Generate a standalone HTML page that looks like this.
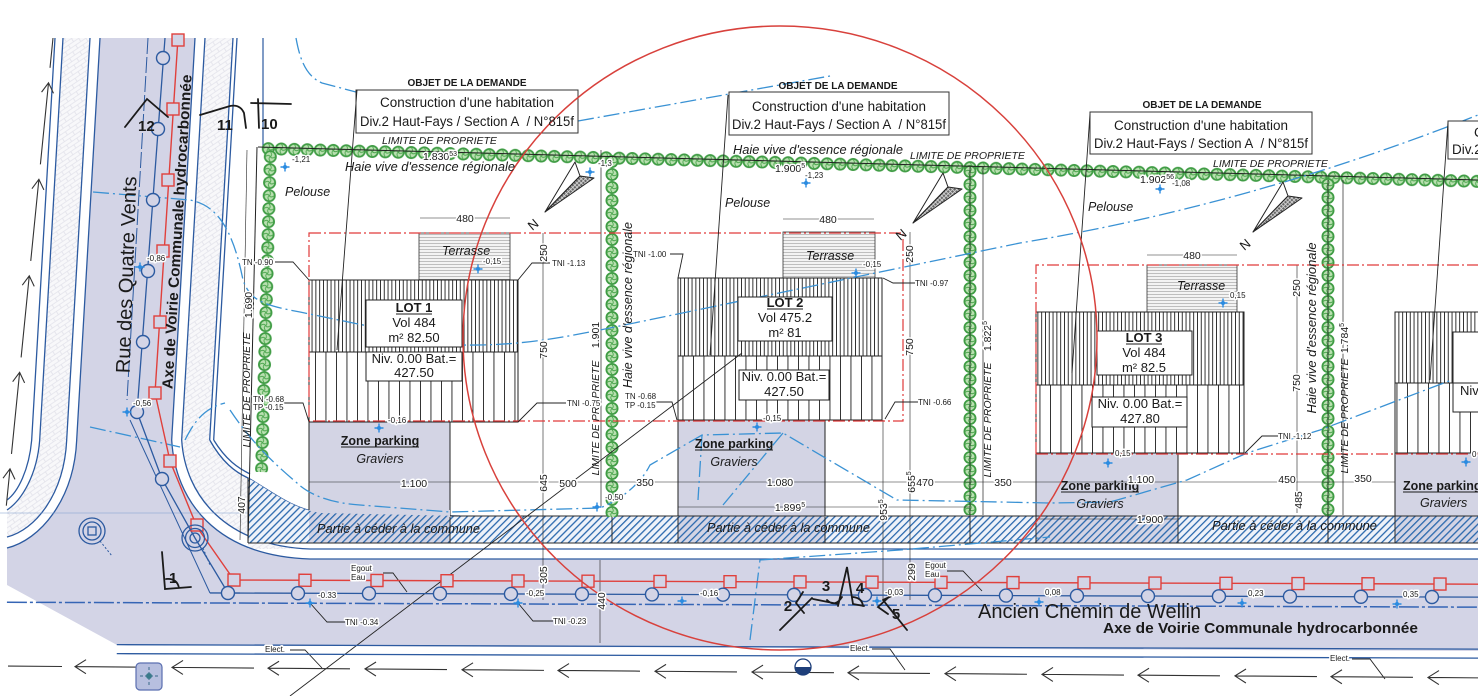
<!DOCTYPE html>
<html><head><meta charset="utf-8"><title>Plan</title>
<style>
html,body{margin:0;padding:0;background:#fff;overflow:hidden;}
svg{display:block;}
text{font-family:"Liberation Sans",Arial,sans-serif;fill:#1a1a1a;}
.s{font-size:8px;}
.d{font-size:10.5px;}
.h{stroke:#fff;stroke-width:3px;paint-order:stroke;stroke-linejoin:round;}
.it{font-style:italic;}
.b{font-weight:bold;}
</style></head><body>
<svg width="1478" height="696" viewBox="0 0 1478 696" xmlns="http://www.w3.org/2000/svg">
<defs>
 <pattern id="vd" width="3.8" height="20" patternUnits="userSpaceOnUse"><rect width="3.8" height="20" fill="#fff"/><rect width="0.9" height="20" fill="#1e1e1e"/></pattern>
 <pattern id="vs" width="10.5" height="20" patternUnits="userSpaceOnUse"><rect width="10.5" height="20" fill="#fff"/><rect width="0.9" height="20" fill="#1e1e1e"/></pattern>
 <pattern id="ht" width="10" height="3" patternUnits="userSpaceOnUse"><rect width="10" height="3" fill="#f3f3f3"/><rect width="10" height="0.6" fill="#9a9a9a"/></pattern>
 <pattern id="hatch" width="5" height="10" patternUnits="userSpaceOnUse" patternTransform="rotate(45)"><rect width="1.3" height="10" fill="#2a68ad"/></pattern>
 <pattern id="xh" width="3" height="3" patternUnits="userSpaceOnUse" patternTransform="rotate(45)"><rect width="3" height="3" fill="#666"/><rect width="0.8" height="3" fill="#ddd"/><rect width="3" height="0.8" fill="#ddd"/></pattern>
 <pattern id="brick" width="12" height="8" patternUnits="userSpaceOnUse" patternTransform="rotate(-35)"><rect width="12" height="8" fill="#f8f8fa"/><path d="M0,0.5H12M0,4.5H12M0.5,0.5V4.5M6.5,4.5V8" stroke="#e2e2ea" stroke-width="0.8" fill="none"/></pattern>
 <pattern id="hedge" width="13" height="13" patternUnits="userSpaceOnUse"><circle cx="6.5" cy="6.5" r="5.6" fill="#b9e0b0" stroke="#3f9c44" stroke-width="1.8"/><path d="M6.5,1.5 Q9,5 6.5,6.5 Q4,8 6.5,11.5 M1.5,6.5 Q5,4 6.5,6.5 Q8,9 11.5,6.5" stroke="#4aa54c" stroke-width="0.9" fill="none"/></pattern>
 <g id="cx"><path d="M-4.5,0H4.5M0,-4.5V4.5" stroke="#2b8be0" stroke-width="1.4"/><circle r="2" fill="#2b8be0"/></g>
 <g id="rc"><circle r="6.5" fill="#d3d4e6" stroke="#2c5aa0" stroke-width="1.4"/></g>
 <g id="rs"><rect x="-6" y="-6" width="12" height="12" fill="#d3d4e6" stroke="#e0403c" stroke-width="1.4"/></g>
</defs>

<rect width="1478" height="696" fill="#fff"/>

<!-- grey road surface -->
<path d="M100,38 L195,38 L171.7,440 C175,500 215,556 310,559 L1478,559 L1478,651 L117,645 L7,585 L7,548 C40,540 74,500 76.7,440 Z" fill="#d3d4e6"/>

<!-- left road straight part (skewed) -->
<g transform="matrix(1,0,-0.058,1,2.2,0)">
 <rect x="63" y="38" width="27" height="402" fill="url(#brick)"/>
 <rect x="205" y="38" width="28" height="402" fill="url(#brick)"/>
 <path d="M55,38V440 M63,38V440 M90,38V440 M100,38V440 M195,38V440 M205,38V440 M233,38V440 M237,38V440" stroke="#2c5aa0" stroke-width="1.3" fill="none"/>
 <path d="M148,38V400" stroke="#2c5aa0" stroke-width="1" stroke-dasharray="16 3" fill="none"/>
</g>
<path d="M263,38V147" stroke="#2c5aa0" stroke-width="1.2"/>

<!-- corner bricks -->
<path d="M39.7,440 C37,475 22,500 7,510 L7,537 C35,530 64,495 66.7,440 Z" fill="url(#brick)"/>
<path d="M181.7,440 L209.7,440 C222,462 235,472 248,478 L248,549 L310,549 C225,546 185,495 181.7,440 Z" fill="url(#brick)"/>
<g fill="none" stroke="#2c5aa0" stroke-width="1.3">
 <path d="M171.7,440 C175,500 215,556 310,559 L1478,559"/>
 <path d="M181.7,440 C185,495 225,546 310,549 L1478,549"/>
 <path d="M209.7,440 C222,462 235,472 248,478 C270,490 290,508 320,513 L460,516"/>
 <path d="M213.7,440 C226,460 238,468 250,474"/>
 <path d="M76.7,440 C74,500 40,540 7,548"/>
 <path d="M66.7,440 C64,495 35,530 7,537"/>
 <path d="M39.7,440 C37,475 22,500 7,510"/>
 <path d="M31.7,440 C29,470 18,492 7,500"/>
 <path d="M0,513 H300" stroke-width="0.6" stroke="#7d9ccc"/>
</g>

<!-- lot 1 -->
<rect x="419" y="233" width="91" height="47" fill="url(#ht)" stroke="#333" stroke-width="0.8"/>
<rect x="309" y="280" width="209" height="72" fill="url(#vd)" stroke="#222" stroke-width="1"/>
<rect x="309" y="352" width="209" height="70" fill="url(#vs)" stroke="#222" stroke-width="1"/>
<rect x="309" y="422" width="141" height="95" fill="#d3d4e4" stroke="#222" stroke-width="1"/>
<!-- lot 2 -->
<rect x="783" y="232" width="92" height="46" fill="url(#ht)" stroke="#333" stroke-width="0.8"/>
<rect x="678" y="278" width="204" height="78" fill="url(#vd)" stroke="#222" stroke-width="1"/>
<rect x="678" y="356" width="204" height="64" fill="url(#vs)" stroke="#222" stroke-width="1"/>
<rect x="678" y="420" width="147" height="97" fill="#d3d4e4" stroke="#222" stroke-width="1"/>
<!-- lot 3 -->
<rect x="1147" y="265" width="90" height="47" fill="url(#ht)" stroke="#333" stroke-width="0.8"/>
<rect x="1036" y="312" width="208" height="73" fill="url(#vd)" stroke="#222" stroke-width="1"/>
<rect x="1036" y="385" width="208" height="68" fill="url(#vs)" stroke="#222" stroke-width="1"/>
<rect x="1036" y="453" width="142" height="63" fill="#d3d4e4" stroke="#222" stroke-width="1"/>
<!-- lot 4 -->
<rect x="1395" y="312" width="90" height="71" fill="url(#vd)" stroke="#222" stroke-width="1"/>
<rect x="1395" y="383" width="90" height="70" fill="url(#vs)" stroke="#222" stroke-width="1"/>
<rect x="1395" y="453" width="90" height="63" fill="#d3d4e4" stroke="#222" stroke-width="1"/>

<!-- hatched band -->
<path d="M248,478 C270,490 290,508 320,513 L460,516 L1478,516 L1478,543 L248,543 Z" fill="#eef2f9"/>
<g fill="#d3d4e4">
 <rect x="309" y="510" width="141" height="33"/>
 <rect x="678" y="516" width="147" height="27"/>
 <rect x="1036" y="516" width="142" height="27"/>
 <rect x="1395" y="516" width="83" height="27"/>
</g>
<path d="M248,478 C270,490 290,508 320,513 L460,516 L1478,516 L1478,543 L248,543 Z" fill="url(#hatch)"/>
<path d="M248,543 H1478 M450,516 H1478 M248,478 V543 M450,517V543 M612,517V543 M678,517V543 M825,517V543 M970,517V543 M1036,516V543 M1178,516V543 M1328,516V543 M1395,516V543" stroke="#2a2a2a" stroke-width="1" fill="none"/>

<!-- hedges -->
<g transform="translate(262,142) rotate(1.55)"><rect width="1232" height="13" fill="url(#hedge)"/></g>
<g transform="translate(264,150) rotate(1.6)"><rect width="13" height="322" fill="url(#hedge)"/></g>
<g transform="translate(605.5,155)"><rect width="13" height="362" fill="url(#hedge)"/></g>
<g transform="translate(963.5,165)"><rect width="13" height="350" fill="url(#hedge)"/></g>
<g transform="translate(1321.5,178)"><rect width="13" height="338" fill="url(#hedge)"/></g>

<!-- property / dimension lines -->
<g stroke="#222" fill="none">
 <path d="M258,147 L1478,180" stroke-width="1"/>
 <path d="M257,147 L248,543" stroke-width="1"/>
 <path d="M247,150 L240,540" stroke-width="0.6"/>
 <path d="M601,150 V507 M983,167 V515 M1343,180 V515" stroke-width="0.7"/>
 <path d="M970,167 V543 M1328,180 V543" stroke-width="0.8"/>
 <path d="M543,233 V600 M910,232 V600 M1297,265 V513 M883,420 V600 M600,560 V643" stroke-width="0.6"/>
 <path d="M309,482 H1395 M678,507 H970 M1036,519 H1178" stroke-width="0.6"/>
 <path d="M420,218 H510 M783,219 H874 M1147,255 H1237" stroke-width="0.6"/>
</g>

<!-- contour lines -->
<g fill="none" stroke="#3a92d4" stroke-width="1.3" stroke-dasharray="16 4 2 4">
 <path d="M296,38 C300,60 306,76 322,83 L356,92"/>
 <path d="M578,121 L830,76"/>
 <path d="M93,192 L190,200 C215,205 232,225 243,280 C250,300 262,305 300,312 L460,345 C520,346 560,338 610,328 L1020,243 Q1250,205 1478,115"/>
 <path d="M90,427 L180,447"/>
 <path d="M185,440 C195,420 205,408 225,403"/>
 <path d="M230,410 C250,440 270,460 297,483 C310,495 330,503 360,505 L450,512 L600,508 C620,500 640,485 650,465 L702,435 L783,433 L897,500 L1050,503 L1110,502 L1187,480 L1247,453 L1320,430 L1478,370"/>
 <path d="M702,435 L698,500 M783,433 L723,505"/>
 <path d="M750,640 L760,560 L900,550 L1050,537"/>
</g>

<!-- red dashed building zones -->
<path d="M309,233 H903 V421 H309 Z M1036,454 V265 H1478 M1036,454 H1478" fill="none" stroke="#e03a3a" stroke-width="1.2" stroke-dasharray="12 3 2 3"/>

<!-- boxes in buildings -->
<g fill="#fff" stroke="#222" stroke-width="1">
 <rect x="366" y="300" width="96" height="47"/>
 <rect x="366" y="352" width="96" height="29"/>
 <rect x="738" y="297" width="94" height="44"/>
 <rect x="739" y="370" width="90" height="30"/>
 <rect x="1097" y="331" width="95" height="44"/>
 <rect x="1092" y="397" width="95" height="30"/>
 <rect x="1453" y="332" width="40" height="51"/>
 <rect x="1453" y="383" width="40" height="29"/>
</g>

<!-- OBJET boxes -->
<g fill="#fff" stroke="#333" stroke-width="1">
 <rect x="356" y="90" width="222" height="43"/>
 <rect x="729" y="92" width="220" height="43"/>
 <rect x="1090" y="112" width="222" height="42"/>
 <rect x="1448" y="121" width="40" height="38"/>
</g>
<g stroke="#222" stroke-width="0.9" fill="none">
 <path d="M357,90 L337,350 M728,95 L710,355 M1090,114 L1072,373 M1448,122 L1430,380"/>
 <path d="M742,353 L290,696"/>
 <path d="M275,262 H293 L309,280 M518,280 L532,263 H550 M518,422 L537,403 H566 M283,403 H303 L309,422"/>
 <path d="M670,254 H683 L678,278 M883,278 L893,283 H915 M652,402 H672 L677,420 M885,419 L895,402 H918 M1245,453 L1262,436 H1278"/>
 <path d="M383,573 H393 L407,592 M947,571 H963 L982,591 M310,603 L327,622 H345 M518,603 L533,621 H553"/>
 <path d="M290,650 H305 L322,668 M872,649 H890 L905,670 M1352,659 H1370 L1385,679"/>
</g>

<!-- north arrows -->
<g stroke="#222" stroke-width="1" stroke-linejoin="round">
 <path d="M545,212 L575,162 L580,176 Z" fill="#fff"/><path d="M545,212 L580,176 L594,178 Z" fill="url(#xh)"/>
 <path d="M913,223 L943,173 L948,187 Z" fill="#fff"/><path d="M913,223 L948,187 L962,189 Z" fill="url(#xh)"/>
 <path d="M1253,232 L1283,182 L1288,196 Z" fill="#fff"/><path d="M1253,232 L1288,196 L1302,198 Z" fill="url(#xh)"/>
</g>
<text transform="translate(536,228) rotate(-40)" font-size="13" text-anchor="middle">N</text>
<text transform="translate(904,238) rotate(-40)" font-size="13" text-anchor="middle">N</text>
<text transform="translate(1248,248) rotate(-40)" font-size="13" text-anchor="middle">N</text>

<!-- left road utilities -->
<path d="M178,38 L155,393 L170,461 L197,527 L234,580" fill="none" stroke="#e0403c" stroke-width="1.4"/>
<path d="M165,38 L137,412 L162,479 L195,538 L228,593 L240,593" fill="none" stroke="#2c5aa0" stroke-width="1.3"/>
<path d="M130,420 L210,593" fill="none" stroke="#2c5aa0" stroke-width="1"/>
<use href="#rs" x="178" y="40"/><use href="#rs" x="173" y="109"/><use href="#rs" x="168" y="180"/><use href="#rs" x="163" y="251"/><use href="#rs" x="160" y="322"/><use href="#rs" x="155" y="393"/><use href="#rs" x="170" y="461"/><use href="#rs" x="197" y="525"/>
<use href="#rc" x="163" y="58"/><use href="#rc" x="158" y="129"/><use href="#rc" x="153" y="200"/><use href="#rc" x="148" y="271"/><use href="#rc" x="143" y="342"/><use href="#rc" x="137" y="412"/><use href="#rc" x="162" y="479"/>
<g fill="none" stroke="#2c5aa0" stroke-width="1.3">
 <circle cx="92" cy="531" r="13"/><circle cx="92" cy="531" r="9"/><rect x="88" y="527" width="8" height="8"/>
 <circle cx="195" cy="538" r="13"/><circle cx="195" cy="538" r="9.5"/><circle cx="195" cy="538" r="5"/>
 <path d="M100,541 L112,556 M203,548 L210,565" stroke-dasharray="2 2" stroke-width="1"/>
</g>

<!-- bottom road utilities -->
<g transform="rotate(0.19,228,580)">
 <path d="M234,580 H1490" stroke="#e0403c" stroke-width="1.4"/>
 <path d="M210,593 H1490" stroke="#2c5aa0" stroke-width="1.3"/>
 <path d="M7,603 H1490" stroke="#3565b5" stroke-width="1.5" stroke-dasharray="20 3 3 3"/>
 <path d="M117,645 H1490 M117,654 H1490" stroke="#2c5aa0" stroke-width="1.3"/>
 <use href="#rs" x="234" y="580"/><use href="#rs" x="305" y="580"/><use href="#rs" x="377" y="580"/><use href="#rs" x="447" y="580"/><use href="#rs" x="518" y="580"/><use href="#rs" x="588" y="580"/><use href="#rs" x="660" y="580"/><use href="#rs" x="730" y="580"/><use href="#rs" x="800" y="580"/><use href="#rs" x="872" y="580"/><use href="#rs" x="941" y="580"/><use href="#rs" x="1013" y="580"/><use href="#rs" x="1084" y="580"/><use href="#rs" x="1155" y="580"/><use href="#rs" x="1226" y="580"/><use href="#rs" x="1298" y="580"/><use href="#rs" x="1368" y="580"/><use href="#rs" x="1440" y="580"/>
 <use href="#rc" x="228" y="593"/><use href="#rc" x="298" y="593"/><use href="#rc" x="369" y="593"/><use href="#rc" x="440" y="593"/><use href="#rc" x="511" y="593"/><use href="#rc" x="582" y="593"/><use href="#rc" x="652" y="593"/><use href="#rc" x="723" y="593"/><use href="#rc" x="794" y="593"/><use href="#rc" x="865" y="593"/><use href="#rc" x="935" y="593"/><use href="#rc" x="1006" y="593"/><use href="#rc" x="1077" y="593"/><use href="#rc" x="1148" y="593"/><use href="#rc" x="1219" y="593"/><use href="#rc" x="1290" y="593"/><use href="#rc" x="1361" y="593"/><use href="#rc" x="1432" y="593"/>
</g>

<!-- survey points -->
<use href="#cx" x="285" y="167"/><use href="#cx" x="478" y="269"/><use href="#cx" x="379" y="428"/><use href="#cx" x="597" y="507"/><use href="#cx" x="590" y="172"/><use href="#cx" x="806" y="183"/><use href="#cx" x="856" y="273"/><use href="#cx" x="757" y="427"/><use href="#cx" x="1160" y="189"/><use href="#cx" x="1223" y="303"/><use href="#cx" x="1108" y="463"/><use href="#cx" x="1466" y="462"/><use href="#cx" x="140" y="267"/><use href="#cx" x="127" y="412"/><use href="#cx" x="310" y="603"/><use href="#cx" x="518" y="603"/><use href="#cx" x="682" y="601"/><use href="#cx" x="877" y="601"/><use href="#cx" x="1039" y="602"/><use href="#cx" x="1242" y="603"/><use href="#cx" x="1397" y="604"/>

<!-- red circle -->
<ellipse cx="780" cy="338" rx="317" ry="312" fill="none" stroke="#d8413c" stroke-width="1.5"/>

<!-- arrows bottom -->
<g transform="rotate(0.46,0,666)" stroke="#333" stroke-width="1.1" fill="none">
 <path d="M8,666 H62 M75,666 H157 M86,659 L75,666 L86,673 M172,666 H254 M183,659 L172,666 L183,673 M268,666 H350 M279,659 L268,666 L279,673 M365,666 H447 M376,659 L365,666 L376,673 M462,666 H544 M473,659 L462,666 L473,673 M558,666 H640 M569,659 L558,666 L569,673 M655,666 H737 M666,659 L655,666 L666,673 M752,666 H834 M763,659 L752,666 L763,673 M848,666 H930 M859,659 L848,666 L859,673 M945,666 H1027 M956,659 L945,666 L956,673 M1042,666 H1124 M1053,659 L1042,666 L1053,673 M1138,666 H1220 M1149,659 L1138,666 L1149,673 M1235,666 H1317 M1246,659 L1235,666 L1246,673 M1331,666 H1413 M1342,659 L1331,666 L1342,673 M1428,666 H1500 M1439,659 L1428,666 L1439,673"/>
</g>
<circle cx="803" cy="667" r="8" fill="#fff" stroke="#1e3f7a" stroke-width="1.3"/>
<path d="M795,667 A8,8 0 0 0 811,667 Z" fill="#1e3f7a"/>
<rect x="136" y="663" width="26" height="27" rx="4" fill="#b7bfdf" stroke="#5b6fb0" stroke-width="1.2"/>
<path d="M140,676 H158 M149,667 V686" stroke="#3a6a8a" stroke-width="1" stroke-dasharray="3 2"/>
<circle cx="149" cy="676" r="3" fill="#3a7a8a"/>

<!-- left vertical arrows -->
<g transform="translate(53,38) rotate(5.7)" stroke="#333" stroke-width="1.1" fill="none">
 <path d="M0,0 V30 M0,45 V127 M-6,55 L0,45 L6,55 M0,142 V224 M-6,152 L0,142 L6,152 M0,239 V321 M-6,249 L0,239 L6,249 M0,336 V418 M-6,346 L0,336 L6,346 M0,433 V470 M-6,443 L0,433 L6,443"/>
</g>

<!-- hand-drawn marks -->
<g stroke="#1a1a1a" stroke-width="1.8" fill="none" stroke-linecap="round">
 <path d="M125,127 L147,99 L168,117 M200,115 L230,106 Q240,104 244,113 L246,128 M258,99 L259,128 M251,103 L291,104"/>
 <path d="M162,552 L165,589 L191,587 M166,579 Q177,578 179,588"/>
 <path d="M780,630 L812,598 M803,592 L796,603 L804,613 M813,599 L838,604 M827,600 Q835,608 842,597 M838,606 L847,567 L853,604 L864,606 M853,597 Q862,598 863,606 M890,596 L878,607 L888,614 M883,600 L907,630 M883,600 L896,594"/>
</g>
<g class="b" font-size="15">
 <text x="138" y="131">12</text><text x="217" y="130">11</text><text x="261" y="129">10</text>
 <text x="169" y="583">1</text>
 <text x="788" y="611" text-anchor="middle">2</text><text x="826" y="591" text-anchor="middle">3</text><text x="860" y="593" text-anchor="middle">4</text><text x="896" y="619" text-anchor="middle">5</text>
</g>

<!-- road names -->
<text transform="translate(133,275) rotate(-88)" font-size="20" text-anchor="middle" fill="#333">Rue des Quatre Vents</text>
<text transform="translate(182,232) rotate(-86.5)" font-size="15" class="b" text-anchor="middle" textLength="315" lengthAdjust="spacingAndGlyphs">Axe de Voirie Communale hydrocarbonnée</text>
<text x="978" y="618" font-size="20" fill="#333">Ancien Chemin de Wellin</text>
<text x="1103" y="633" font-size="15" class="b" textLength="315" lengthAdjust="spacingAndGlyphs">Axe de Voirie Communale hydrocarbonnée</text>

<!-- OBJET texts -->
<g class="b" font-size="10" text-anchor="middle">
 <text x="467" y="86">OBJET DE LA DEMANDE</text>
 <text x="838" y="89">OBJET DE LA DEMANDE</text>
 <text x="1202" y="108">OBJET DE LA DEMANDE</text>
</g>
<g font-size="13.5" text-anchor="middle">
 <text x="467" y="107" textLength="174" lengthAdjust="spacingAndGlyphs">Construction d'une habitation</text>
 <text x="467" y="126" textLength="214" lengthAdjust="spacingAndGlyphs">Div.2 Haut-Fays / Section A&#160; / N°815f</text>
 <text x="839" y="111" textLength="174" lengthAdjust="spacingAndGlyphs">Construction d'une habitation</text>
 <text x="839" y="129" textLength="214" lengthAdjust="spacingAndGlyphs">Div.2 Haut-Fays / Section A&#160; / N°815f</text>
 <text x="1201" y="130" textLength="174" lengthAdjust="spacingAndGlyphs">Construction d'une habitation</text>
 <text x="1201" y="148" textLength="214" lengthAdjust="spacingAndGlyphs">Div.2 Haut-Fays / Section A&#160; / N°815f</text>
</g>
<text x="1474" y="137" font-size="13.5">Construction</text>
<text x="1452" y="154" font-size="13.5">Div.2 Haut-Fays</text>

<!-- property labels -->
<g class="it" font-size="10.5">
 <text x="382" y="144">LIMITE DE PROPRIETE</text>
 <text x="910" y="159">LIMITE DE PROPRIETE</text>
 <text x="1213" y="167">LIMITE DE PROPRIETE</text>
 <text transform="translate(250,390) rotate(-90)" text-anchor="middle">LIMITE DE PROPRIETE</text>
 <text transform="translate(599,418) rotate(-90)" text-anchor="middle">LIMITE DE PROPRIETE</text>
 <text transform="translate(991,420) rotate(-90)" text-anchor="middle">LIMITE DE PROPRIETE</text>
 <text transform="translate(1348,416) rotate(-90)" text-anchor="middle">LIMITE DE PROPRIETE</text>
</g>
<g class="d h">
 <text transform="translate(599,335) rotate(-90)" text-anchor="middle">1.901</text>
 <text transform="translate(991,336) rotate(-90)" text-anchor="middle">1.822<tspan font-size="7" dy="-4">5</tspan></text>
 <text transform="translate(1348,338) rotate(-90)" text-anchor="middle">1.784<tspan font-size="7" dy="-4">5</tspan></text>
 <text transform="translate(252,305) rotate(-90)" text-anchor="middle">1.690</text>
 <text transform="translate(245,505) rotate(-90)" text-anchor="middle">407</text>
</g>
<g class="it" font-size="12.5">
 <text x="345" y="171" textLength="170" lengthAdjust="spacingAndGlyphs">Haie vive d'essence régionale</text>
 <text x="733" y="154" textLength="170" lengthAdjust="spacingAndGlyphs">Haie vive d'essence régionale</text>
 <text transform="translate(632,305) rotate(-90)" text-anchor="middle" textLength="166" lengthAdjust="spacingAndGlyphs">Haie vive d'essence régionale</text>
 <text transform="translate(1316,328) rotate(-90)" text-anchor="middle" textLength="171" lengthAdjust="spacingAndGlyphs">Haie vive d'essence régionale</text>
 <text x="285" y="196">Pelouse</text>
 <text x="725" y="207">Pelouse</text>
 <text x="1088" y="211">Pelouse</text>
 <text x="442" y="255">Terrasse</text>
 <text x="806" y="260">Terrasse</text>
 <text x="1177" y="290">Terrasse</text>
</g>

<!-- lot box texts -->
<g font-size="13" text-anchor="middle">
 <text x="414" y="312" class="b">LOT 1</text><text x="414" y="327">Vol 484</text><text x="414" y="342">m² 82.50</text>
 <text x="414" y="363">Niv. 0.00 Bat.=</text><text x="414" y="377">427.50</text>
 <text x="785" y="307" class="b">LOT 2</text><text x="785" y="322">Vol 475.2</text><text x="785" y="337">m² 81</text>
 <text x="784" y="381">Niv. 0.00 Bat.=</text><text x="784" y="396">427.50</text>
 <text x="1144" y="342" class="b">LOT 3</text><text x="1144" y="357">Vol 484</text><text x="1144" y="372">m² 82.5</text>
 <text x="1140" y="408">Niv. 0.00 Bat.=</text><text x="1140" y="423">427.80</text>
</g>
<text x="1460" y="395" font-size="13">Niv</text>
<path d="M396,314 H432 M767,309 H803 M1126,344 H1162" stroke="#1a1a1a" stroke-width="1"/>

<!-- parking texts -->
<g font-size="12.5">
 <text x="380" y="445" class="b" text-anchor="middle">Zone parking</text>
 <text x="380" y="463" class="it" text-anchor="middle">Graviers</text>
 <text x="734" y="448" class="b" text-anchor="middle">Zone parking</text>
 <text x="734" y="466" class="it" text-anchor="middle">Graviers</text>
 <text x="1100" y="490" class="b" text-anchor="middle">Zone parking</text>
 <text x="1100" y="508" class="it" text-anchor="middle">Graviers</text>
 <text x="1403" y="490" class="b">Zone parking</text>
 <text x="1420" y="507" class="it">Graviers</text>
</g>
<path d="M341,447 H419 M695,450 H773 M1061,492 H1139 M1403,492 H1478" stroke="#1a1a1a" stroke-width="1"/>
<g class="it" font-size="12.5" fill="#333">
 <text x="317" y="533" textLength="163" lengthAdjust="spacingAndGlyphs">Partie à céder à la commune</text>
 <text x="707" y="532" textLength="163" lengthAdjust="spacingAndGlyphs">Partie à céder à la commune</text>
 <text x="1212" y="530" textLength="165" lengthAdjust="spacingAndGlyphs">Partie à céder à la commune</text>
</g>

<!-- dimensions -->
<g class="d h" text-anchor="middle">
 <text x="465" y="222">480</text><text x="828" y="223">480</text><text x="1192" y="259">480</text>
 <text x="414" y="487">1.100</text><text x="568" y="487">500</text><text x="645" y="486">350</text>
 <text x="780" y="486">1.080</text><text x="925" y="486">470</text><text x="1003" y="486">350</text>
 <text x="1141" y="483">1.100</text><text x="1287" y="483">450</text><text x="1363" y="482">350</text>
 <text x="790" y="511">1.899<tspan font-size="7" dy="-4">5</tspan></text>
 <text x="1150" y="523">1.900</text>
 <text transform="translate(547,253) rotate(-90)">250</text>
 <text transform="translate(547,350) rotate(-90)">750</text>
 <text transform="translate(547,483) rotate(-90)">645</text>
 <text transform="translate(547,575) rotate(-90)">305</text>
 <text transform="translate(605,601) rotate(-90)">440</text>
 <text transform="translate(913,254) rotate(-90)">250</text>
 <text transform="translate(913,347) rotate(-90)">750</text>
 <text transform="translate(887,510) rotate(-90)">953<tspan font-size="7" dy="-4">5</tspan></text>
 <text transform="translate(915,482) rotate(-90)">655<tspan font-size="7" dy="-4">5</tspan></text>
 <text transform="translate(915,572) rotate(-90)">299</text>
 <text transform="translate(1300,288) rotate(-90)">250</text>
 <text transform="translate(1300,383) rotate(-90)">750</text>
 <text transform="translate(1302,500) rotate(-90)">485</text>
</g>
<g class="d h">
 <text x="423" y="160">1.830<tspan font-size="7" dy="-4">53</tspan></text>
 <text x="775" y="172">1.900<tspan font-size="7" dy="-4">5</tspan></text>
 <text x="1140" y="183">1.902<tspan font-size="7" dy="-4">56</tspan></text>
</g>

<!-- small labels -->
<g class="s h">
 <text x="292" y="162">-1,21</text><text x="805" y="178">-1,23</text><text x="1172" y="186">-1,08</text><text x="598" y="166">-1,3</text>
 <text x="242" y="265">TN -0.90</text>
 <text x="483" y="264">-0,15</text>
 <text x="552" y="266">TNI -1.13</text>
 <text x="567" y="406">TNI -0.75</text>
 <text x="253" y="402">TN -0.68</text><text x="253" y="410">TP -0.15</text>
 <text x="388" y="423">-0,16</text>
 <text x="605" y="500">-0,50</text>
 <text x="633" y="257">TNI -1.00</text>
 <text x="863" y="267">-0,15</text>
 <text x="915" y="286">TNI -0.97</text>
 <text x="625" y="399">TN -0.68</text><text x="625" y="408">TP -0.15</text>
 <text x="918" y="405">TNI -0.66</text>
 <text x="763" y="421">-0,15</text>
 <text x="1278" y="439">TNI -1,12</text>
 <text x="1115" y="456">0,15</text>
 <text x="1230" y="298">0,15</text>
 <text x="1472" y="457">0</text>
 <text x="147" y="261">-0,86</text>
 <text x="133" y="406">-0,56</text>
 <text x="318" y="598">-0.33</text><text x="526" y="596">-0,25</text><text x="700" y="596">-0,16</text><text x="885" y="595">-0,03</text>
 <text x="1045" y="595">0,08</text><text x="1248" y="596">0,23</text><text x="1403" y="597">0,35</text>
 <text x="345" y="625">TNI -0.34</text><text x="553" y="624">TNI -0.23</text>
 <text x="351" y="571">Egout</text><text x="351" y="580">Eau</text>
 <text x="925" y="568">Egout</text><text x="925" y="577">Eau</text>
 <text x="265" y="652">Elect.</text><text x="850" y="651">Elect.</text><text x="1330" y="661">Elect.</text>
</g>
</svg>
</body></html>
